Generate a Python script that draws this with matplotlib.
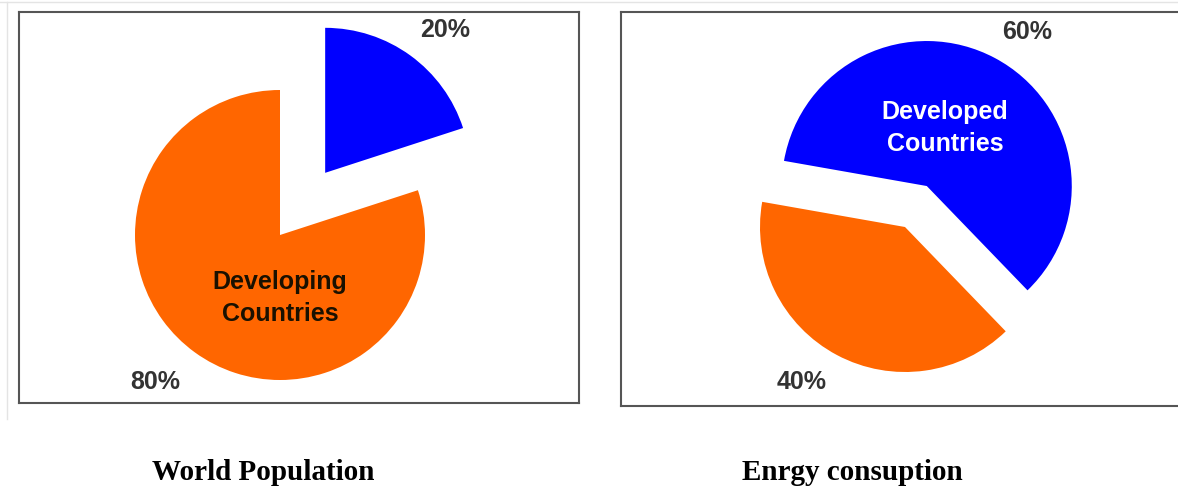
import matplotlib
matplotlib.use("Agg")
import matplotlib.pyplot as plt
from matplotlib.lines import Line2D

# data
pop_labels = ["Developed Countries", "Developing Countries"]
pop_values = [20, 80]
energy_labels = ["Developed Countries", "Developing Countries"]
energy_values = [60, 40]
titles = ["World Population", "Enrgy consuption"]

BLUE = "#0000ff"
ORANGE = "#ff6600"
W, H = 1178, 488
R = 145.0  # pie radius in pixels


def make_box(fig, x0, y0, x1, y1, cx, cy):
    # axes spanning a pixel box, data units = pie radii, origin at (cx, cy)
    ax = fig.add_axes([x0 / W, 1 - y1 / H, (x1 - x0) / W, (y1 - y0) / H])
    for s in ax.spines.values():
        s.set_color("#555555")
        s.set_linewidth(1.5)
    return ax


def set_box_limits(ax, x0, y0, x1, y1, cx, cy):
    ax.set_xlim((x0 - cx) / R, (x1 - cx) / R)
    ax.set_ylim((cy - y1) / R, (cy - y0) / R)
    ax.set_aspect("auto")
    ax.set_xticks([])
    ax.set_yticks([])


def px(cx, cy, x, y):
    return (x - cx) / R, (cy - y) / R


plt.rcParams["font.family"] = ["Liberation Sans", "DejaVu Sans"]
fig = plt.figure(figsize=(W / 100, H / 100), dpi=100)

# faint outer frame
fig.add_artist(Line2D([0, 1], [1 - 2 / H, 1 - 2 / H], color="#e4e4e4", lw=1))
fig.add_artist(Line2D([7 / W, 7 / W], [1 - 2 / H, 1 - 419 / H], color="#e4e4e4", lw=1))

# World population
cx, cy = 280, 235
box1 = (18.7, 11.7, 579, 403)
ax1 = make_box(fig, *box1, cx, cy)
ax1.pie(pop_values, colors=[BLUE, ORANGE], startangle=90, counterclock=False,
        explode=[0.53, 0], radius=1, center=(0, 0), frame=True)
set_box_limits(ax1, *box1, cx, cy)
ax1.text(*px(cx, cy, 445, 30), f"{pop_values[0]}%", ha="center", va="center",
         fontsize=18, fontweight="bold", color="#333333")
ax1.text(*px(cx, cy, 155, 382), f"{pop_values[1]}%", ha="center", va="center",
         fontsize=18, fontweight="bold", color="#333333")
ax1.text(*px(cx, cy, 280, 298), pop_labels[1].replace(" ", "\n"), ha="center",
         va="center", fontsize=18, fontweight="bold", color="#1a1100", linespacing=1.38)

# Energy consumption
cx, cy = 905, 227
box2 = (621, 11.7, 1184, 406)
ax2 = make_box(fig, *box2, cx, cy)
ax2.pie(energy_values, colors=[BLUE, ORANGE], startangle=170, counterclock=False,
        explode=[0.32, 0], radius=1, center=(0, 0), frame=True)
set_box_limits(ax2, *box2, cx, cy)
ax2.text(*px(cx, cy, 1027, 32), f"{energy_values[0]}%", ha="center", va="center",
         fontsize=18, fontweight="bold", color="#333333")
ax2.text(*px(cx, cy, 802, 382), f"{energy_values[1]}%", ha="center", va="center",
         fontsize=18, fontweight="bold", color="#333333")
ax2.text(*px(cx, cy, 945, 128), energy_labels[0].replace(" ", "\n"), ha="center",
         va="center", fontsize=18, fontweight="bold", color="white", linespacing=1.38)

fig.text(263 / W, 1 - 480 / H, titles[0], ha="center", va="baseline",
         family="Liberation Serif", fontweight="bold", fontsize=21)
fig.text(852 / W, 1 - 480 / H, titles[1], ha="center", va="baseline",
         family="Liberation Serif", fontweight="bold", fontsize=21)

fig.savefig("out.png", dpi=100)
